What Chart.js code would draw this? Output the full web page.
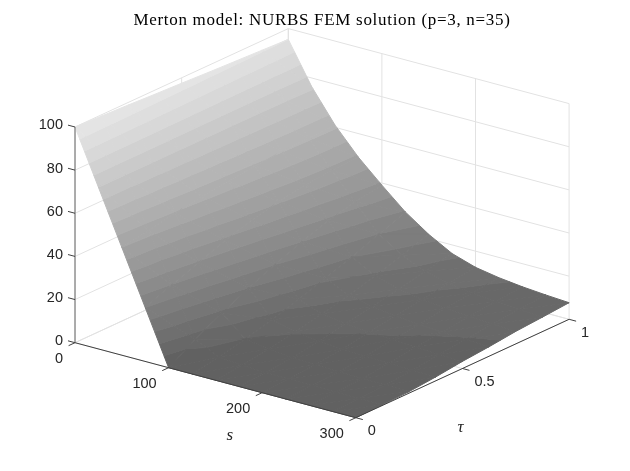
<!DOCTYPE html>
<html>
<head>
<meta charset="utf-8">
<style>
  html, body { margin: 0; padding: 0; background: #fff; }
  #wrap { width: 630px; height: 471px; }
  canvas { display: block; }
</style>
<script src="https://cdn.jsdelivr.net/npm/chart.js@4"></script>
</head>
<body>
<div id="wrap"><canvas id="myChart" width="630" height="471"></canvas></div>
<script>
const titleText = "Merton model: NURBS FEM solution (p=3, n=35)";

// option price, one row per tau
const sValues = [0, 25, 50, 75, 100, 125, 150, 175, 200, 225, 250, 275, 300];
const tauValues = [0, 0.125, 0.25, 0.375, 0.5, 0.625, 0.75, 0.875, 1];
const priceTau000 = [100, 75, 50, 25, 0, 0, 0, 0, 0, 0, 0, 0, 0];
const priceTau125 = [99.4, 75.1, 52, 29.8, 7.5, 2.2, 1.2, 0.8, 0.6, 0.5, 0.4, 0.3, 0.3];
const priceTau250 = [98.8, 75.2, 54.5, 34.5, 14, 4.8, 2.9, 1.9, 1.5, 1.2, 1, 0.8, 0.7];
const priceTau375 = [98.1, 75.2, 56.5, 39, 20, 8, 5.3, 4, 3.2, 2.7, 2.3, 2, 1.8];
const priceTau500 = [97.5, 75.2, 58, 42.8, 25, 11.8, 8, 6.4, 5.2, 4.6, 4, 3.6, 3.3];
const priceTau625 = [96.8, 75.2, 59.2, 45.5, 30, 15.8, 10.9, 8.6, 7, 6, 5.3, 4.8, 4.4];
const priceTau750 = [96.2, 75.3, 60.2, 47.6, 34, 20, 14.2, 11, 9, 7.8, 6.9, 6.3, 5.8];
const priceTau875 = [95.6, 75.5, 60.8, 48.6, 37, 24.8, 18, 13.5, 10.7, 9.2, 8, 7.3, 6.7];
const priceTau100 = [95, 76, 61, 49, 39, 29.5, 22, 16, 12.5, 10.6, 9.3, 8.4, 7.7];
const priceRows = [priceTau000, priceTau125, priceTau250, priceTau375, priceTau500, priceTau625, priceTau750, priceTau875, priceTau100];

// colour bands of the surface
const bandLevels = [0, 5, 10, 15, 20, 25, 30, 35, 40, 45, 50, 55, 60, 65, 70, 75, 80, 85, 90, 95, 100];
const bandColors = ["#616161", "#686868", "#6f6f6f", "#767676", "#7d7d7d", "#848484", "#8b8b8b", "#929292", "#999999", "#a0a0a0",
  "#a7a7a7", "#aeaeae", "#b5b5b5", "#bcbcbc", "#c3c3c3", "#cacaca", "#d1d1d1", "#d8d8d8", "#dedede", "#e4e4e4"];

// axis ticks
const zTicks = [0, 20, 40, 60, 80, 100];
const sTicks = [0, 100, 200, 300];
const tauTicks = [0, 0.5, 1];
const zTickLabels = ["0", "20", "40", "60", "80", "100"];
const sTickLabels = ["0", "100", "200", "300"];
const tauTickLabels = ["0", "0.5", "1"];

// view of the 3D box on the page
const view = { x0: 75, y0: 342.7, sx: 0.936, sy: 0.25, tx: 213.3, ty: -98.4, zy: -2.157 };
const gridColor = "#e2e2e2";
const axisColor = "#404040";
const titleBlock = 30;

function project(s, t, z) {
  return { x: view.x0 + view.sx * s + view.tx * t, y: view.y0 + view.sy * s + view.ty * t + view.zy * z };
}

let datasets = [];

function addLine(points, color, width) {
  datasets.push({
    data: points,
    showLine: true,
    pointRadius: 0,
    borderColor: color,
    borderWidth: width,
    fill: false,
    clip: false
  });
}

function addPolygon(points, color) {
  datasets.push({
    data: points.concat([points[0]]),
    showLine: true,
    pointRadius: 0,
    borderColor: color,
    borderWidth: 1,
    backgroundColor: color,
    fill: "shape",
    clip: false
  });
}

// cut a polygon of {s, t, v} to one side of a price level
function cutPolygon(poly, level, keepAbove) {
  let out = [];
  for (let i = 0; i < poly.length; i++) {
    let a = poly[i];
    let b = poly[(i + 1) % poly.length];
    let aIn = keepAbove ? a.v >= level : a.v <= level;
    let bIn = keepAbove ? b.v >= level : b.v <= level;
    if (aIn) out.push(a);
    if (aIn !== bIn) {
      let k = (level - a.v) / (b.v - a.v);
      out.push({ s: a.s + (b.s - a.s) * k, t: a.t + (b.t - a.t) * k, v: level });
    }
  }
  return out;
}

function addTriangle(tri) {
  for (let b = 0; b < bandColors.length; b++) {
    let poly = cutPolygon(tri, bandLevels[b], true);
    if (poly.length) poly = cutPolygon(poly, bandLevels[b + 1], false);
    if (poly.length >= 3) {
      addPolygon(poly.map(p => project(p.s, p.t, p.v)), bandColors[b]);
    }
  }
}

function node(i, j) {
  return { s: sValues[i], t: tauValues[j], v: priceRows[j][i] };
}

// back walls and floor
zTicks.forEach(z => {
  addLine([project(0, 0, z), project(0, 1, z), project(300, 1, z)], gridColor, 1);
});
sTicks.forEach(s => {
  addLine([project(s, 0, 0), project(s, 1, 0)], gridColor, 1);
  addLine([project(s, 1, 0), project(s, 1, 100)], gridColor, 1);
});
tauTicks.forEach(t => {
  addLine([project(0, t, 0), project(300, t, 0)], gridColor, 1);
  addLine([project(0, t, 0), project(0, t, 100)], gridColor, 1);
});

// surface, from the far corner to the near one
for (let i = 0; i < sValues.length - 1; i++) {
  for (let j = tauValues.length - 2; j >= 0; j--) {
    addTriangle([node(i, j + 1), node(i + 1, j + 1), node(i, j)]);
    addTriangle([node(i + 1, j + 1), node(i + 1, j), node(i, j)]);
  }
}

// axes and tick marks
addLine([project(0, 0, 0), project(0, 0, 100)], "#666666", 1);
addLine([project(0, 0, 0), project(300, 0, 0)], axisColor, 1);
addLine([project(300, 0, 0), project(300, 1, 0)], axisColor, 1);
zTicks.forEach(z => addLine([project(0, 0, z), project(-7.5, 0, z)], axisColor, 1));
sTicks.forEach(s => addLine([project(s, 0, 0), project(s, -0.03, 0)], axisColor, 1));
tauTicks.forEach(t => addLine([project(300, t, 0), project(307.5, t, 0)], axisColor, 1));

// chart.js paints the first dataset last
datasets.reverse();

const tickTextPlugin = {
  id: "tickText",
  beforeDraw(chart) {
    // the title font is narrower than the one in the picture
    chart.ctx.letterSpacing = "0.7px";
  },
  afterDatasetsDraw(chart) {
    let ctx = chart.ctx;
    let xs = chart.scales.x;
    let ys = chart.scales.y;
    let put = (text, p, dx, dy, align) => {
      ctx.textAlign = align;
      ctx.fillText(text, xs.getPixelForValue(p.x) + dx, ys.getPixelForValue(p.y) + dy);
    };
    ctx.save();
    ctx.letterSpacing = "0px";
    ctx.fillStyle = "#262626";
    ctx.textBaseline = "middle";
    ctx.font = '14.5px "Liberation Sans"';
    zTicks.forEach((z, i) => put(zTickLabels[i], project(0, 0, z), -12, -1.5, "right"));
    sTicks.forEach((s, i) => put(sTickLabels[i], project(s, 0, 0), -12, 16, "right"));
    tauTicks.forEach((t, i) => put(tauTickLabels[i], project(300, t, 0), 12, 13.5, "left"));
    ctx.font = 'italic 17px "Liberation Serif"';
    put("s", project(150, 0, 0), 14.5, 55, "center");
    put("τ", project(300, 0.5, 0), -2, 59, "center");
    ctx.restore();
  }
};

new Chart(document.getElementById("myChart"), {
  type: "scatter",
  data: { datasets: datasets },
  plugins: [tickTextPlugin],
  options: {
    responsive: false,
    animation: false,
    layout: { padding: { left: 14 } },
    scales: {
      x: { type: "linear", display: false, min: 14, max: 630 },
      y: { type: "linear", display: false, reverse: true, min: titleBlock, max: 471 }
    },
    plugins: {
      legend: { display: false },
      tooltip: { enabled: false },
      title: {
        display: true,
        text: titleText,
        color: "#000000",
        font: { family: '"Liberation Serif"', size: 17, weight: "normal", lineHeight: 1.0588 },
        padding: { top: 12, bottom: 0 }
      }
    }
  }
});
</script>
</body>
</html>
